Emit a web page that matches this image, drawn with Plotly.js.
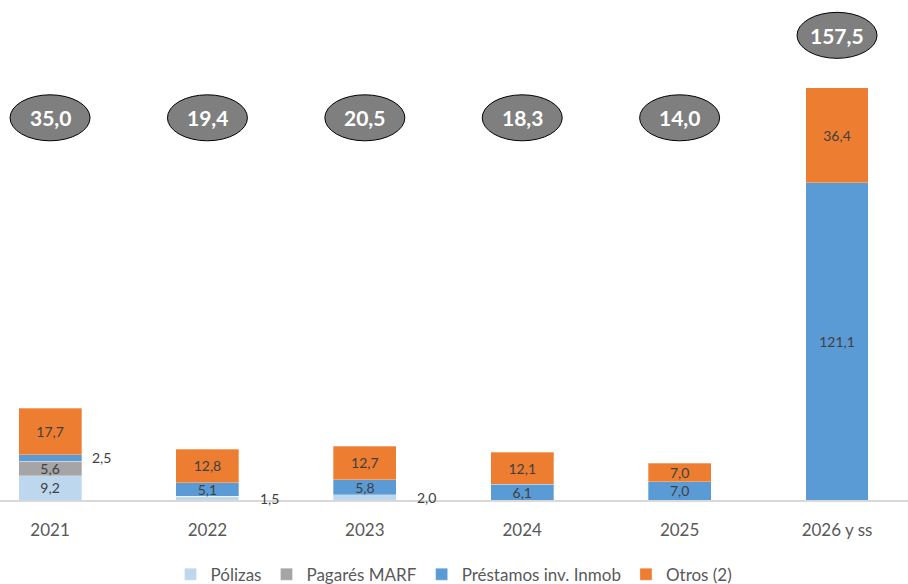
<!DOCTYPE html>
<html>
<head>
<meta charset="utf-8">
<script src="https://cdn.plot.ly/plotly-3.0.1.min.js"></script>
<style>html,body{margin:0;padding:0;background:#fff;}#chart{width:908px;height:584px;}</style>
</head>
<body>
<div id="chart"></div>
<script>
const categories = ['2021', '2022', '2023', '2024', '2025', '2026 y ss'];
const polizas    = [9.2, 1.5, 2.0, 0.0, 0.0, 0.0];
const pagares    = [5.6, 0.0, 0.0, 0.0, 0.0, 0.0];
const prestamos  = [2.5, 5.1, 5.8, 6.1, 7.0, 121.1];
const otros      = [17.7, 12.8, 12.7, 12.1, 7.0, 36.4];
const totals     = [35.0, 19.4, 20.5, 18.3, 14.0, 157.5];
const seriesNames = ['Pólizas', 'Pagarés MARF', 'Préstamos inv. Inmob', 'Otros (2)'];

const colors = ['#BDD7EE', '#A5A5A5', '#5B9BD5', '#ED7D31'];
const series = [polizas, pagares, prestamos, otros];
const fmt = v => v.toFixed(1).replace('.', ',');
const INSIDE_MIN = 4;   // values smaller than this are labelled beside the bar
const FONT = 'Lato, "Open Sans", sans-serif';

const xIdx = categories.map((c, i) => i);
const traces = series.map((vals, s) => ({
  type: 'bar',
  name: seriesNames[s],
  x: xIdx,
  y: vals,
  width: 0.4,
  marker: {color: colors[s], line: {color: 'rgba(255,255,255,0.6)', width: 0.5}},
  text: vals.map(v => v >= INSIDE_MIN ? fmt(v) : ''),
  textposition: 'inside',
  insidetextanchor: 'middle',
  textangle: 0,
  textfont: {family: FONT, size: 14, color: '#404040'},
  hoverinfo: 'skip'
}));

const annotations = [];
const shapes = [];
series.forEach((vals, s) => {
  vals.forEach((v, i) => {
    if (v > 0 && v < INSIDE_MIN) {
      let base = 0;
      for (let k = 0; k < s; k++) base += series[k][i];
      annotations.push({
        x: i, y: base + v / 2, xref: 'x', yref: 'y',
        text: fmt(v), showarrow: false, xshift: i === 0 ? 51 : 62,
        font: {family: FONT, size: 14, color: '#404040'}
      });
    }
  });
});
const ELL_Y_MIN = 146;
totals.forEach((t, i) => {
  const yc = Math.max(ELL_Y_MIN, t + 20);
  shapes.push({
    type: 'circle', xref: 'x', yref: 'y',
    xsizemode: 'pixel', ysizemode: 'pixel',
    xanchor: i, yanchor: yc,
    x0: -40, x1: 40, y0: -23, y1: 23,
    fillcolor: '#7F7F7F', line: {color: '#000000', width: 1}, layer: 'above'
  });
  annotations.push({
    x: i, y: yc, xref: 'x', yref: 'y', text: '<b>' + fmt(t) + '</b>', showarrow: false,
    font: {family: FONT, size: 21, color: '#FFFFFF'}
  });
});

const layout = {
  width: 908, height: 584,
  margin: {l: 0, r: 0, t: 0, b: 84, autoexpand: false},
  barmode: 'stack',
  paper_bgcolor: '#FFFFFF', plot_bgcolor: '#FFFFFF',
  showlegend: true,
  legend: {
    orientation: 'h', x: 0.5, xanchor: 'center',
    yref: 'container', y: 0.016, yanchor: 'middle',
    font: {family: FONT, size: 17, color: '#595959'},
    itemwidth: 30, traceorder: 'normal'
  },
  xaxis: {
    range: [-0.318, 5.451],
    tickvals: xIdx, ticktext: categories,
    tickfont: {family: FONT, size: 17, color: '#595959'},
    showgrid: false, zeroline: false, automargin: false,
    showline: true, linecolor: '#D9D9D9', linewidth: 1.5,
    ticks: '', ticklabelstandoff: 14, fixedrange: true
  },
  yaxis: {
    range: [0, 191], visible: false, showgrid: false, zeroline: false, automargin: false, fixedrange: true
  },
  uniformtext: {minsize: 14, mode: 'show'},
  shapes: shapes,
  annotations: annotations
};

Plotly.newPlot('chart', traces, layout, {displayModeBar: false, staticPlot: true});
</script>
</body>
</html>
